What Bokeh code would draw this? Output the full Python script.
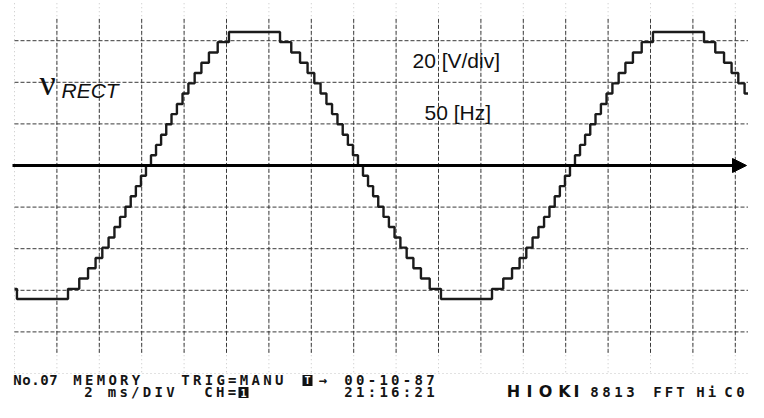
from bokeh.plotting import figure
from bokeh.models import Range1d, Arrow, NormalHead
from bokeh.core.properties import value
from bokeh.embed import file_html
from bokeh.resources import INLINE

# ---- data (2 ms/div, 20 V/div) ----
step_time_ms = [0.000, 0.116, 2.524, 3.055, 3.469, 3.824, 4.142, 4.437, 4.714, 4.979,
                5.234, 5.482, 5.725, 5.964, 6.202, 6.438, 6.676, 6.915, 7.158, 7.406,
                7.661, 7.926, 8.203, 8.498, 8.816, 9.171, 9.585, 10.116, 12.524, 13.055,
                13.469, 13.824, 14.142, 14.437, 14.714, 14.979, 15.234, 15.482, 15.725, 15.964,
                16.202, 16.438, 16.676, 16.915, 17.158, 17.406, 17.661, 17.926, 18.203, 18.498,
                18.816, 19.171, 19.585, 20.116, 22.524, 23.055, 23.469, 23.824, 24.142, 24.437,
                24.714, 24.979, 25.234, 25.482, 25.725, 25.964, 26.202, 26.438, 26.676, 26.915,
                27.158, 27.406, 27.661, 27.926, 28.203, 28.498, 28.816, 29.171, 29.585, 30.116,
                32.524, 33.055, 33.469, 33.824, 34.142, 34.437, 34.714, 34.979, 35.234, 35.400]
step_volts = [-59.3, -64.2, -59.3, -54.3, -49.4, -44.5, -39.5, -34.6, -29.6, -24.7,
              -19.8, -14.8, -9.9, -4.9, 0.0, 4.9, 9.9, 14.8, 19.8, 24.7,
              29.6, 34.6, 39.5, 44.5, 49.4, 54.3, 59.3, 64.2, 59.3, 54.3,
              49.4, 44.5, 39.5, 34.6, 29.6, 24.7, 19.8, 14.8, 9.9, 4.9,
              0.0, -4.9, -9.9, -14.8, -19.8, -24.7, -29.6, -34.6, -39.5, -44.5,
              -49.4, -54.3, -59.3, -64.2, -59.3, -54.3, -49.4, -44.5, -39.5, -34.6,
              -29.6, -24.7, -19.8, -14.8, -9.9, -4.9, 0.0, 4.9, 9.9, 14.8,
              19.8, 24.7, 29.6, 34.6, 39.5, 44.5, 49.4, 54.3, 59.3, 64.2,
              59.3, 54.3, 49.4, 44.5, 39.5, 34.6, 29.6, 24.7, 19.8, 19.8]

grid_time_ms = [2, 4, 6, 8, 10, 12, 14, 16, 18, 20, 22, 24, 26, 28, 30, 32, 34]
grid_volts = [60, 40, 20, -20, -40, -60, -80]
label_signal = "\u03bd"
label_signal_sub = "RECT"
label_vdiv = "20 [V/div]"
label_freq = "50 [Hz]"
status_line1 = [("No.07", 17, 9.0), ("MEMORY", 77, 11.7), ("TRIG=MANU", 185, 11.7),
                ("\u2192", 322.5, 11.7), ("00-10-87", 348, 11.7)]
status_line2 = [("2 ms/DIV", 88, 11.7), ("CH=", 208, 11.7), ("21:16:21", 348, 11.7)]
status_line3 = [("8813", 594, 12.0), ("FFT", 657, 11.5), ("Hi", 700, 11.5), ("C0", 728, 12.0)]
brand = "HIOKI"
brand_centers = [513, 529, 545, 564, 576]

# ---- layout helpers (picture pixel -> data units) ----
X0_PX, PX_PER_MS = 14.0, 21.2
Y0_PX, PX_PER_V = 165.0, 2.08
LINE1_BASE, LINE2_BASE = 385, 397
LIFT = 0.4  # text is drawn lower than its baseline anchor by about this many em


def tx(px):
    return (px - X0_PX) / PX_PER_MS


def vy(py):
    return (Y0_PX - py) / PX_PER_V


def ty(base_px, size):
    return vy(base_px - LIFT * size)


p = figure(width=748, height=402, x_range=Range1d(tx(0), tx(748)),
           y_range=Range1d(vy(402), vy(0)), output_backend="svg",
           toolbar_location=None, x_axis_location=None, y_axis_location=None,
           min_border=0, title=None)
p.xgrid.visible = False
p.ygrid.visible = False
p.outline_line_color = None
p.background_fill_color = "white"
p.border_fill_color = "white"

GRID = "#3a3a3a"
FAINT = "#c4c4c4"

# faint dotted frame parts
n_v = len(grid_time_ms) + 1
p.segment(x0=[tx(14)] + grid_time_ms, x1=[tx(14)] + grid_time_ms,
          y0=[78] * n_v, y1=[-100] * n_v,
          line_color=FAINT, line_width=1, line_dash="1 3")
p.segment(x0=[tx(14)], x1=[tx(760)], y0=[-100], y1=[-100],
          line_color=FAINT, line_width=1, line_dash="1 3")

# dashed grid
p.segment(x0=grid_time_ms, x1=grid_time_ms,
          y0=[70.5] * len(grid_time_ms), y1=[-91] * len(grid_time_ms),
          line_color=GRID, line_width=1, line_dash="4 2")
p.segment(x0=[tx(14)] * len(grid_volts), x1=[tx(760)] * len(grid_volts),
          y0=grid_volts, y1=grid_volts,
          line_color=GRID, line_width=1, line_dash="4 2")

# zero axis arrow
p.add_layout(Arrow(end=NormalHead(size=14, fill_color="black", line_color="black"),
                   x_start=tx(12), y_start=0, x_end=tx(746), y_end=0,
                   line_color="black", line_width=3))

# stepped waveform
p.step(x=step_time_ms, y=step_volts, mode="after", line_color="#1b1b1b", line_width=2.4)

# labels
p.text(x=[tx(39)], y=[ty(97, 36)], text=[label_signal], text_font=value("Liberation Serif"),
       text_font_size="36px", text_color="#111111", text_baseline="alphabetic")
p.text(x=[tx(61)], y=[ty(98, 21)], text=[label_signal_sub], text_font=value("Liberation Sans"),
       text_font_size="21px", text_font_style="italic", text_color="#111111",
       text_baseline="alphabetic")
p.text(x=[tx(412)], y=[ty(68, 21)], text=[label_vdiv], text_font=value("Liberation Sans"),
       text_font_size="21px", text_color="#111111", text_baseline="alphabetic")
p.text(x=[tx(424)], y=[ty(120, 21)], text=[label_freq], text_font=value("Liberation Sans"),
       text_font_size="21px", text_color="#111111", text_baseline="alphabetic")

# status text, placed character by character (LCD pitch)
MONO = 14
chars, cx, cy = [], [], []
for lines, base in ((status_line1, LINE1_BASE), (status_line2, LINE2_BASE),
                    (status_line3, LINE2_BASE)):
    for s, x0, pitch in lines:
        for i, ch in enumerate(s):
            if ch == " ":
                continue
            chars.append(ch)
            cx.append(tx(x0 + pitch * i))
            cy.append(ty(base, MONO))
p.text(x=cx, y=cy, text=chars, text_font=value("DejaVu Sans Mono"),
       text_font_size=f"{MONO}px", text_font_style="bold", text_color="#151515",
       text_align="center", text_baseline="alphabetic")

# inverse boxes (T and 1)
p.rect(x=[tx(307), tx(243)], y=[vy(LINE1_BASE - 5), vy(LINE2_BASE - 5)], width=10,
       height=11, width_units="screen", height_units="screen", fill_color="#111111",
       line_color=None)
p.text(x=[tx(307), tx(243)], y=[ty(LINE1_BASE - 1, 10), ty(LINE2_BASE - 1, 10)],
       text=["T", "1"], text_font=value("DejaVu Sans Mono"), text_font_size="10px",
       text_font_style="bold", text_color="white", text_align="center",
       text_baseline="alphabetic")

# brand
p.text(x=[tx(c) for c in brand_centers], y=[ty(397, 16)] * len(brand), text=list(brand),
       text_font=value("DejaVu Sans"), text_font_size="16px", text_font_style="bold",
       text_color="#111111", text_align="center", text_baseline="alphabetic")

open("out.html", "w").write(file_html(p, INLINE))
